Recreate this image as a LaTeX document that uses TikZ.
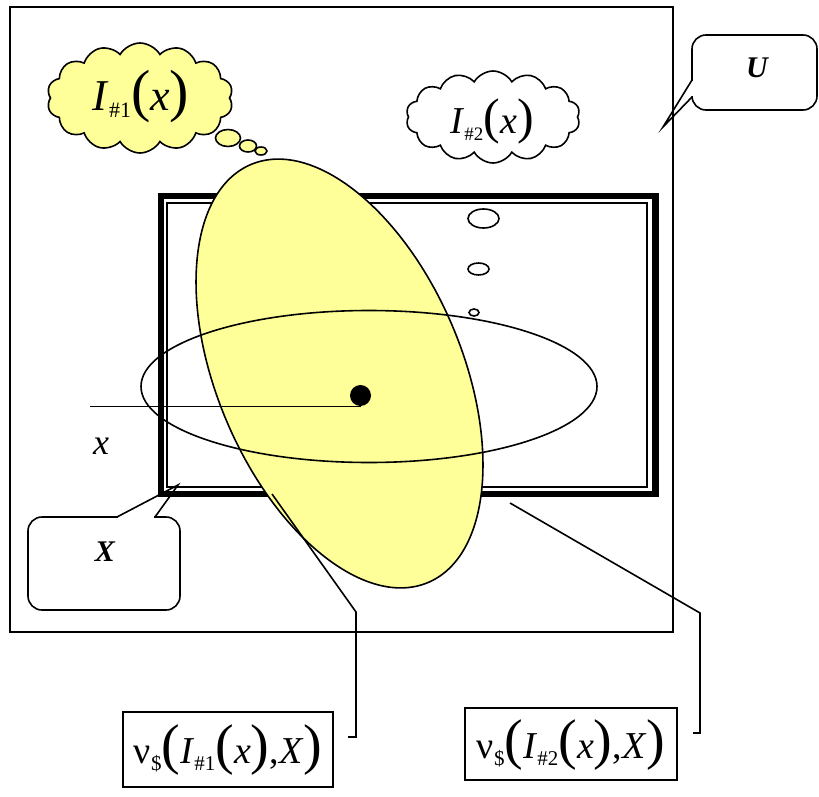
\documentclass[tikz,border=0pt]{standalone}
\usepackage{fontspec}
\setmainfont{Liberation Serif}
\usetikzlibrary{shapes.symbols}
\definecolor{lightyel}{RGB}{255,255,153}
\newcommand\fsz[1]{\fontsize{#1}{#1}\selectfont}
\newcommand\mysub[2][21]{\raisebox{-7pt}{\fsz{#1}#2}}
\newcommand\bigpar[2][56]{{\fsz{#1}#2}}
\tikzset{
  thin line/.style={line width=1.6pt},
  cloudnode/.style={cloud, cloud puffs=14, cloud puff arc=120, draw, line width=1.6pt, inner sep=0pt},
  bubble/.style={draw, line width=1.6pt},
  callbox/.style={draw, line width=1.6pt, rounded corners=14pt, inner sep=0pt},
  labelbox/.style={draw, line width=1.6pt, inner sep=0pt},
  conn/.style={line width=1.6pt},
}
\begin{document}
\begin{tikzpicture}[x=1pt,y=-1pt]
\useasboundingbox (0,0) rectangle (819,797);
% universe U
\draw[thin line] (10,7) rectangle (673,632);
% set X : thick-thin border
\draw[line width=6.5pt] (161,196) rectangle (655.5,494);
\draw[line width=1.6pt] (167,203) rectangle (647,487);
% yellow ellipse
\draw[thin line, fill=lightyel, rotate around={-67:(339.5,373.5)}] (339.5,373.5) ellipse [x radius=227pt, y radius=122.5pt];
% white ellipse
\draw[thin line] (369,386.5) ellipse [x radius=228pt, y radius=76pt];
% small bubbles of cloud 2
\draw[bubble] (483.5,218.5) ellipse [x radius=15.5pt, y radius=9.5pt];
\draw[bubble] (478.5,269) ellipse [x radius=10.5pt, y radius=6pt];
\draw[bubble] (474,312.5) ellipse [x radius=5pt, y radius=3.5pt];
% point x
\node[circle, fill=black, inner sep=0pt, minimum size=21pt] (dot) at (360.5,395.5) {};
\coordinate (xs) at (90,406.5);
\draw[conn] (xs) -- (xs -| dot.south);
\node[font=\fsz{36}\itshape] (xl) at (101,446) {x};
% cloud 1
\node[cloudnode, fill=lightyel, minimum width=186pt, minimum height=110pt] (c1) at (140,98) {};
\node (t1) at (141,97) {\fsz{44}\textit{I}\mysub[22]{\#1}\bigpar[58]{(}\textit{x}\bigpar[58]{)}};
\draw[bubble, fill=lightyel] (228,138) ellipse [x radius=12.5pt, y radius=8.5pt];
\draw[bubble, fill=lightyel] (248,146) ellipse [x radius=8.5pt, y radius=6pt];
\draw[bubble, fill=lightyel] (261,151) ellipse [x radius=6pt, y radius=4pt];
% cloud 2
\node[cloudnode, fill=white, minimum width=174pt, minimum height=92pt] (c2) at (493,117) {};
\node (t2) at (492,121) {\fsz{38}\textit{I}\mysub[19]{\#2}\bigpar[50]{(}\textit{x}\bigpar[50]{)}};
% callout U
\node[callbox, minimum width=125pt, minimum height=75pt] (ub) at (754.5,72.5) {};
\fill[white] (690,81) rectangle (694,96);
\coordinate (ut) at (663,127);
\draw[conn, line join=miter] (692,80) -- (ut) -- (692,97);
\node[font=\fsz{30}\bfseries\itshape] (ul) at (757,68) {U};
% callout X
\node[callbox, minimum width=152pt, minimum height=93pt] (xb) at (104,563.5) {};
\fill[white] (118,515) rectangle (154,519);
\coordinate (xt) at (178,485);
\draw[conn, line join=miter] (117,517) -- (xt) -- (155,517);
\node[font=\fsz{30}\bfseries\itshape] (xlab) at (105,552) {X};
% label boxes
\node[labelbox, minimum width=210pt, minimum height=75pt] (lb1) at (228,749.5) {};
\node (lt1) at (228,750) {\fsz{38}ν\mysub{\$}\bigpar{(}\textit{I}\mysub{\#1}\bigpar{(}\textit{x}\bigpar{)},\textit{X}\bigpar{)}};
\node[labelbox, minimum width=212pt, minimum height=72pt] (lb2) at (571,744) {};
\node (lt2) at (571,745) {\fsz{38}ν\mysub{\$}\bigpar{(}\textit{I}\mysub{\#2}\bigpar{(}\textit{x}\bigpar{)},\textit{X}\bigpar{)}};
% connectors
\coordinate (a1) at (272,494);
\coordinate (a2) at (356,612);
\coordinate (a3) at (356,737);
\coordinate (a4) at (348,737);
\draw[conn] (a1) -- (a2) -- (a3) -- (a4);
\coordinate (b1) at (510,503);
\coordinate (b2) at (700,613);
\coordinate (b3) at (700,733);
\coordinate (b4) at (693,733);
\draw[conn] (b1) -- (b2) -- (b3) -- (b4);
\end{tikzpicture}
\end{document}
